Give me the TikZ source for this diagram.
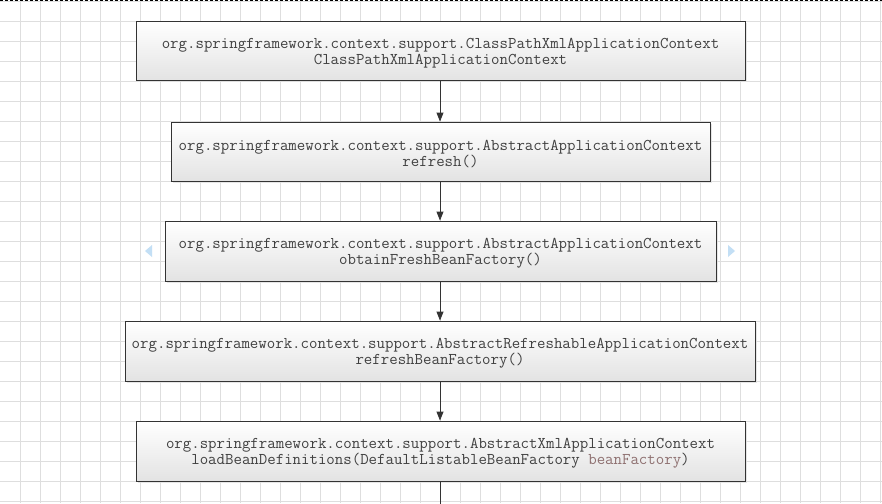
\documentclass[tikz,border=0pt]{standalone}
\usepackage{fontspec}
\usetikzlibrary{arrows.meta,shadows}
\definecolor{gridc}{HTML}{DEDEDE}
\definecolor{txt}{HTML}{404040}
\definecolor{param}{HTML}{8E7070}
\definecolor{tri}{HTML}{C3DFF5}
\definecolor{edge}{HTML}{333333}
\tikzset{
  callbox/.style={draw=edge, line width=0.9pt, top color=white, bottom color=black!11,
    inner sep=0pt,
    drop shadow={shadow xshift=1.5pt, shadow yshift=-1.5pt, fill=black!12, opacity=0.8}},
  calltext/.style={inner sep=0pt, align=center, text=txt,
    font=\ttfamily\fontsize{16.4}{15.6}\selectfont},
  flow/.style={draw=edge, line width=0.9pt, -{Triangle[width=7pt,length=9pt]}},
  flowend/.style={draw=edge, line width=0.9pt},
  navtri/.style={fill=tri, draw=none}
}
\begin{document}
\begin{tikzpicture}[x=1pt,y=-1pt]
\useasboundingbox (0,0) rectangle (882,503);
\fill[white] (0,0) rectangle (882,503);
% grid
\foreach \gx in {20,40,...,880} \draw[gridc, line width=0.7pt] (\gx,0) -- (\gx,503);
\foreach \gy in {1.7,21.7,...,503} \draw[gridc, line width=0.7pt] (0,\gy) -- (882,\gy);
% top dashed border
\draw[black, line width=0.8pt, dash pattern=on 3pt off 2pt] (0,0.6) -- (882,0.6);
% nav triangles
\fill[navtri] (145,251) -- (152,245) -- (152,257) -- cycle;
\fill[navtri] (735,251) -- (728,245) -- (728,257) -- cycle;
% boxes
\node[callbox, minimum width=609pt, minimum height=59.5pt] (b1) at (440.5,51) {};
\node[callbox, minimum width=539pt, minimum height=59pt] (b2) at (440.5,151.5) {};
\node[callbox, minimum width=551pt, minimum height=60pt] (b3) at (440.5,251) {};
\node[callbox, minimum width=630pt, minimum height=60pt] (b4) at (440,351) {};
\node[callbox, minimum width=609pt, minimum height=60pt] (b5) at (440.5,451) {};
% texts
\node[calltext] (t1) at ([yshift=-2.3pt]b1.center)
  {org.springframework.context.support.ClassPathXmlApplicationContext\\ClassPathXmlApplicationContext};
\node[calltext] (t2) at ([yshift=-2.3pt]b2.center)
  {org.springframework.context.support.AbstractApplicationContext\\refresh()};
\node[calltext] (t3) at ([yshift=-2.3pt]b3.center)
  {org.springframework.context.support.AbstractApplicationContext\\obtainFreshBeanFactory()};
\node[calltext] (t4) at ([yshift=-2.3pt]b4.center)
  {org.springframework.context.support.AbstractRefreshableApplicationContext\\refreshBeanFactory()};
\node[calltext] (t5) at ([yshift=-2.3pt]b5.center)
  {org.springframework.context.support.AbstractXmlApplicationContext\\loadBeanDefinitions(DefaultListableBeanFactory \textcolor{param}{beanFactory})};
\coordinate (bend) at (440,504);
% connectors
\draw[flow] (b1.south -| 440,0) -- (b2.north -| 440,0);
\draw[flow] (b2.south -| 440,0) -- (b3.north -| 440,0);
\draw[flow] (b3.south -| 440,0) -- (b4.north -| 440,0);
\draw[flow] (b4.south -| 440,0) -- (b5.north -| 440,0);
\draw[flowend] (b5.south -| 440,0) -- (bend);
\end{tikzpicture}
\end{document}
